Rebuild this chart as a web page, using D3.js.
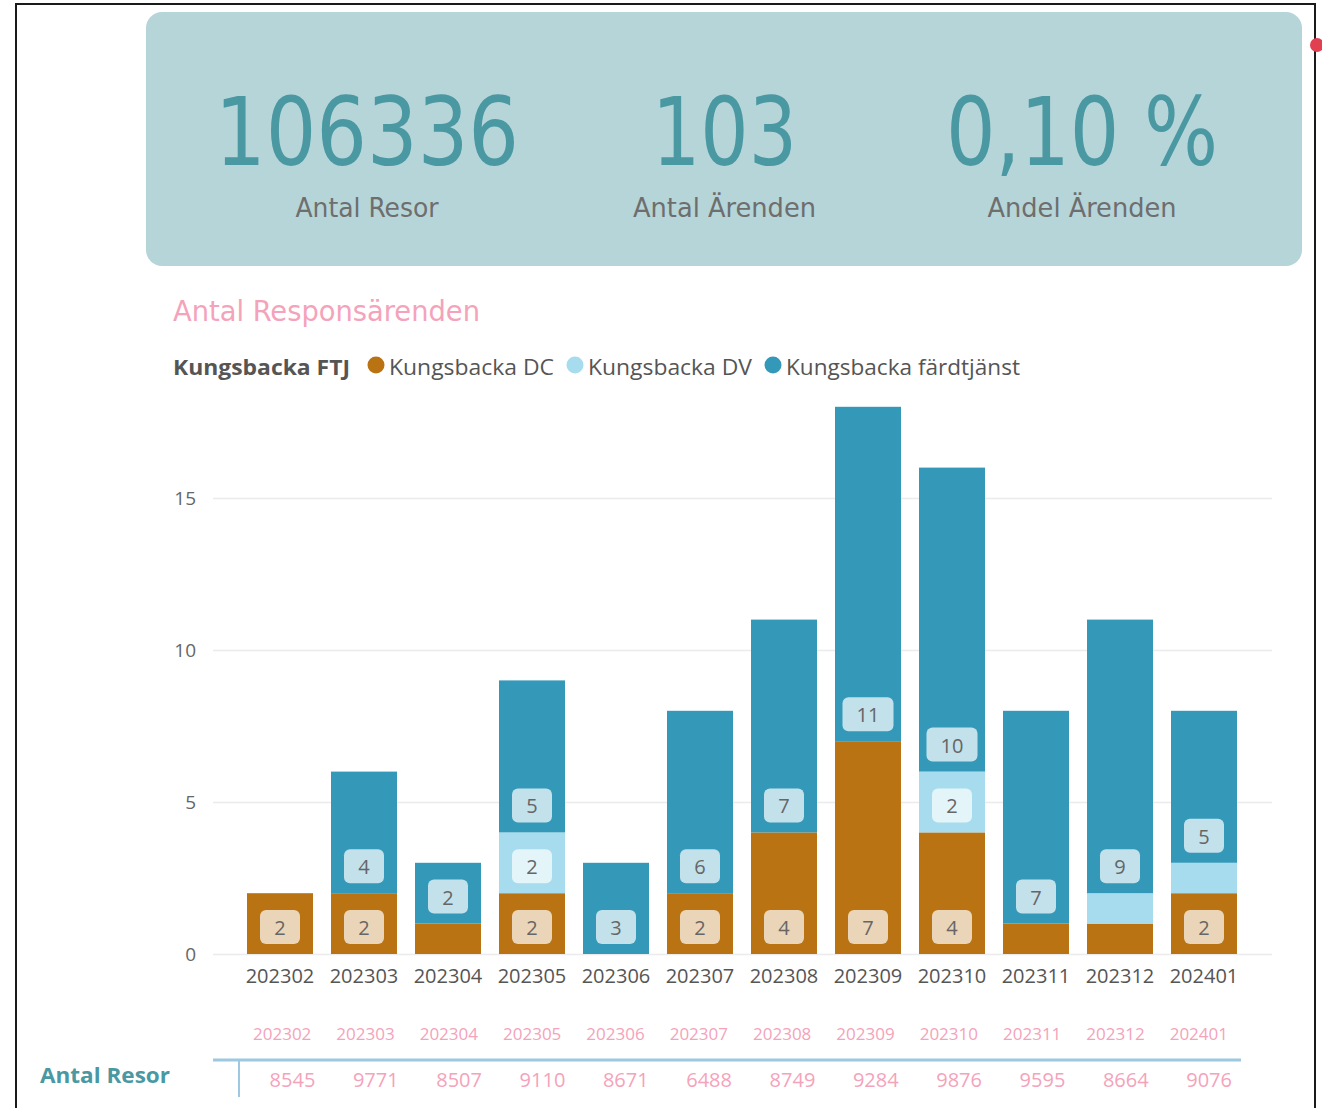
<!DOCTYPE html>
<html><head><meta charset="utf-8">
<script src="https://cdn.jsdelivr.net/npm/d3@7"></script>
<style>
html,body{margin:0;padding:0;background:#fff;}
svg{display:block;}
</style></head>
<body>
<svg id="chart" width="1322" height="1108"></svg>
<script>
// ---- data ----
const months = ["202302","202303","202304","202305","202306","202307","202308","202309","202310","202311","202312","202401"];
const seriesKeys = ["Kungsbacka DC","Kungsbacka DV","Kungsbacka färdtjänst"];
const dcValues = [2,2,1,2,0,2,4,7,4,1,1,2];
const dvValues = [0,0,0,2,0,0,0,0,2,0,1,1];
const fardtjanstValues = [0,4,2,5,3,6,7,11,10,7,9,5];
const antalResor = [8545,9771,8507,9110,8671,6488,8749,9284,9876,9595,8664,9076];
const yTickValues = [0,5,10,15];
const kpiValues = ["106336","103","0,10 %"];
const kpiLabels = ["Antal Resor","Antal Ärenden","Andel Ärenden"];
const seriesColors = ["#b97312","#a6dced","#3499b9"];

const svg = d3.select("#chart");
const dinFont = "'DejaVu Sans Condensed','DejaVu Sans',sans-serif";
const uiFont = "'Segoe UI','Open Sans','Noto Sans',sans-serif";

// outer frame
svg.append("rect").attr("x",16).attr("y",4).attr("width",1299).attr("height",1120)
  .attr("fill","none").attr("stroke","#1a1a1a").attr("stroke-width",2);
svg.append("circle").attr("cx",1317).attr("cy",45).attr("r",7).attr("fill","#e0404f");

// KPI card
svg.append("rect").attr("x",146).attr("y",12).attr("width",1156).attr("height",254)
  .attr("rx",16).attr("fill","#b6d5d9");
const kpiX = d3.scalePoint().domain(kpiValues.map((d,i)=>i)).range([367,1082]);
const kpiW = [304,145,272];
const kpiLW = [143,183,189];
kpiValues.forEach((v,i)=>{
  svg.append("text").attr("x",kpiX(i)).attr("y",165).attr("text-anchor","middle")
    .attr("font-family",dinFont).attr("font-size",94).attr("fill","#4a98a2")
    .attr("textLength",kpiW[i]).attr("lengthAdjust","spacingAndGlyphs").text(v);
  svg.append("text").attr("x",kpiX(i)).attr("y",217).attr("text-anchor","middle")
    .attr("font-family",dinFont).attr("font-size",27).attr("fill","#6e6e6e")
    .attr("textLength",kpiLW[i]).attr("lengthAdjust","spacingAndGlyphs").text(kpiLabels[i]);
});

// Title
svg.append("text").attr("x",173).attr("y",321).attr("font-family",dinFont)
  .attr("font-size",28).attr("fill","#f4a3bb").attr("textLength",307)
  .attr("lengthAdjust","spacingAndGlyphs").text("Antal Responsärenden");

// Legend
svg.append("text").attr("x",173).attr("y",375).attr("font-family",uiFont)
  .attr("font-size",21).attr("font-weight","bold").attr("fill","#555")
  .attr("textLength",177).attr("lengthAdjust","spacingAndGlyphs").text("Kungsbacka FTJ");
const legX = [376,575,773];
const legW = [165,164,234];
seriesKeys.forEach((k,i)=>{
  svg.append("circle").attr("cx",legX[i]).attr("cy",365).attr("r",8.5).attr("fill",seriesColors[i]);
  svg.append("text").attr("x",legX[i]+13).attr("y",375).attr("font-family",uiFont)
    .attr("font-size",21).attr("fill","#555").attr("textLength",legW[i])
    .attr("lengthAdjust","spacingAndGlyphs").text(k);
});

// scales
const x = d3.scaleBand().domain(months).range([238,1246]).paddingInner(18/84).paddingOuter(9/84);
const y = d3.scaleLinear().domain([0,18]).range([954,406.8]);

// gridlines + y axis
const yAxis = d3.axisLeft(y).tickValues(yTickValues).tickSize(-(1272-213)).tickPadding(17);
const gy = svg.append("g").attr("transform","translate(213,0)").call(yAxis);
gy.select(".domain").remove();
gy.selectAll(".tick line").attr("stroke","#ebebeb").attr("stroke-width",1.5);
gy.selectAll(".tick text").attr("font-family",uiFont).attr("font-size",19).attr("fill","#666");

// stacked bars
const rows = months.map((m,i)=>({month:m,"Kungsbacka DC":dcValues[i],"Kungsbacka DV":dvValues[i],"Kungsbacka färdtjänst":fardtjanstValues[i]}));
const stacked = d3.stack().keys(seriesKeys)(rows);
const layers = svg.append("g").selectAll("g").data(stacked).join("g")
  .attr("fill",(d,i)=>seriesColors[i]);
layers.selectAll("rect").data(d=>d.filter(s=>s[1]-s[0]>0)).join("rect")
  .attr("x",d=>x(d.data.month)).attr("width",x.bandwidth())
  .attr("y",d=>y(d[1])).attr("height",d=>y(d[0])-y(d[1]));

// data labels (inside base)
const lbl = svg.append("g");
stacked.forEach((layer,li)=>{
  layer.forEach(s=>{
    const v = s[1]-s[0];
    if (v<=0) return;
    const h = y(s[0])-y(s[1]);
    if (h < 40) return;
    const cx = x(s.data.month)+x.bandwidth()/2;
    const cy = y(s[0])-27;
    const txt = String(v);
    const bw = txt.length>1 ? 51 : 40;
    lbl.append("rect").attr("x",cx-bw/2).attr("y",cy-17).attr("width",bw).attr("height",34)
      .attr("rx",6).attr("fill","#fff").attr("fill-opacity",0.7);
    lbl.append("text").attr("x",cx).attr("y",cy+8).attr("text-anchor","middle")
      .attr("font-family",uiFont).attr("font-size",20).attr("fill","#666").text(txt);
  });
});

// x axis
const xAxis = d3.axisBottom(x).tickSize(0).tickPadding(15);
const gx = svg.append("g").attr("transform","translate(0,954)").call(xAxis);
gx.select(".domain").remove();
gx.selectAll(".tick text").attr("font-family",uiFont).attr("font-size",20).attr("fill","#555");

// bottom table
const colX = d3.scaleBand().domain(months).range([240,1240]);
svg.append("g").selectAll("text").data(months).join("text")
  .attr("x",d=>colX(d)+colX.bandwidth()-12).attr("y",1040).attr("text-anchor","end")
  .attr("font-family",uiFont).attr("font-size",17).attr("fill","#f4a3bb").text(d=>d);
svg.append("line").attr("x1",213).attr("x2",1241).attr("y1",1060).attr("y2",1060)
  .attr("stroke","#9ec8e2").attr("stroke-width",3);
svg.append("line").attr("x1",239).attr("x2",239).attr("y1",1060).attr("y2",1097)
  .attr("stroke","#9ec8e2").attr("stroke-width",2);
svg.append("text").attr("x",40).attr("y",1083).attr("font-family",uiFont)
  .attr("font-size",21).attr("font-weight","bold").attr("fill","#4a98a2")
  .attr("textLength",130).attr("lengthAdjust","spacingAndGlyphs").text("Antal Resor");
svg.append("g").selectAll("text").data(antalResor).join("text")
  .attr("x",(d,i)=>colX(months[i])+colX.bandwidth()-8).attr("y",1087).attr("text-anchor","end")
  .attr("font-family",uiFont).attr("font-size",20).attr("fill","#f4a3bb").text(d=>d);
</script>
</body></html>
